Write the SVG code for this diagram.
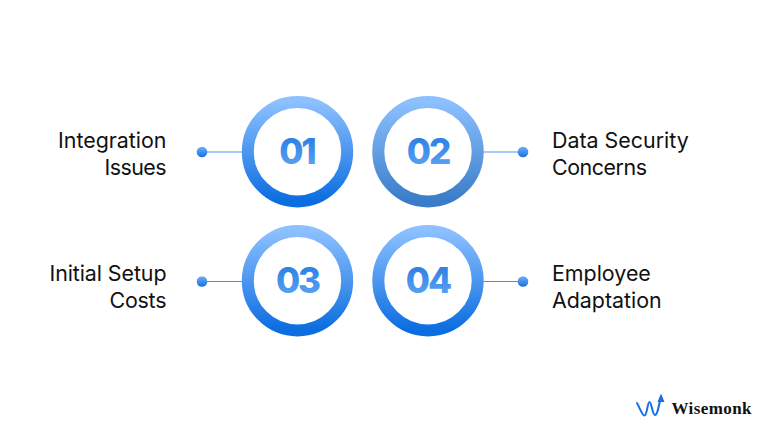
<svg xmlns="http://www.w3.org/2000/svg" width="768" height="432" viewBox="0 0 768 432">
<style>
.lbl{font-family:"Inter","Noto Sans",sans-serif;font-size:21.400px;font-weight:400;fill:#111}
.r{text-anchor:end}
.num{font-family:"Inter","Liberation Sans",sans-serif;font-size:35px;font-weight:800;letter-spacing:-2px;text-anchor:middle}
.ring{fill:none;stroke-width:12}
.ln{stroke-width:1;fill:none}
.ln2{stroke-width:1.500;fill:none}
.brand{font-family:"Liberation Serif","DejaVu Serif",serif;font-size:17px;font-weight:700;fill:#111;letter-spacing:0.400px}
</style>
<defs>
<linearGradient id="gr" x1="0" y1="0" x2="0" y2="1"><stop offset="0" stop-color="#8cc0ff"/><stop offset="1" stop-color="#0b6de0"/></linearGradient>
<linearGradient id="gr2" x1="0" y1="0" x2="0" y2="1"><stop offset="0" stop-color="#8cc0ff"/><stop offset="1" stop-color="#3a7cc8"/></linearGradient>
<linearGradient id="gt" x1="0" y1="0" x2="0" y2="1"><stop offset="0" stop-color="#1f78e0"/><stop offset="1" stop-color="#64a8f5"/></linearGradient>
<linearGradient id="gd" x1="0" y1="0" x2="0" y2="1"><stop offset="0" stop-color="#6fb0fa"/><stop offset="1" stop-color="#1570e0"/></linearGradient>
</defs>
<rect width="768" height="432" fill="#fff"/>
<g id="connectors">
<line class="ln2" x1="202" y1="152" x2="243" y2="152" stroke="#86baf8"/>
<line class="ln2" x1="482" y1="152" x2="523" y2="152" stroke="#86baf8"/>
<line class="ln" x1="202" y1="281.500" x2="243" y2="281.500" stroke="#4a8fe0"/>
<line class="ln" x1="482" y1="281.500" x2="523" y2="281.500" stroke="#4a8fe0"/>
</g>
<g id="node-01">
<circle cx="202" cy="152" r="5.300" fill="url(#gd)"/>
<circle class="ring" cx="297.500" cy="151.700" r="49.700" stroke="url(#gr)"/>
<text class="num" x="297" y="164" fill="url(#gt)">01</text>
<text class="lbl r" x="166.500" y="147.500">Integration</text>
<text class="lbl r" x="166.500" y="174.500" textLength="62">Issues</text>
</g>
<g id="node-02">
<circle cx="523" cy="152" r="5.300" fill="url(#gd)"/>
<circle class="ring" cx="428" cy="151.700" r="49.700" stroke="url(#gr2)"/>
<text class="num" x="428" y="164" fill="url(#gt)">02</text>
<text class="lbl" x="552" y="147.500">Data Security</text>
<text class="lbl" x="552" y="174.500" textLength="95">Concerns</text>
</g>
<g id="node-03">
<circle cx="202" cy="281.500" r="5.300" fill="url(#gd)"/>
<circle class="ring" cx="297.500" cy="280.700" r="49.700" stroke="url(#gr)"/>
<text class="num" x="297.500" y="293" fill="url(#gt)">03</text>
<text class="lbl r" x="166.500" y="280.500" textLength="117">Initial Setup</text>
<text class="lbl r" x="166.500" y="307.500" textLength="57">Costs</text>
</g>
<g id="node-04">
<circle cx="523" cy="281.500" r="5.300" fill="url(#gd)"/>
<circle class="ring" cx="428" cy="280.700" r="49.700" stroke="url(#gr)"/>
<text class="num" x="428" y="293" fill="url(#gt)">04</text>
<text class="lbl" x="552" y="280.500">Employee</text>
<text class="lbl" x="552" y="307.500">Adaptation</text>
</g>
<g id="logo">
<path d="M637 403 C640 408 642 415.500 644.500 415.500 C647 415.500 647.500 402 649.500 402 C651.500 402 652.500 415 655 415 C657.500 415 659 405 660.500 398" fill="none" stroke="#1570e8" stroke-width="2" stroke-linecap="round" stroke-linejoin="round"/>
<polygon points="661,393.500 664.500,402 657.500,402" fill="#1570e8"/>
<text class="brand" x="671.500" y="414">Wisemonk</text>
</g>
</svg>
